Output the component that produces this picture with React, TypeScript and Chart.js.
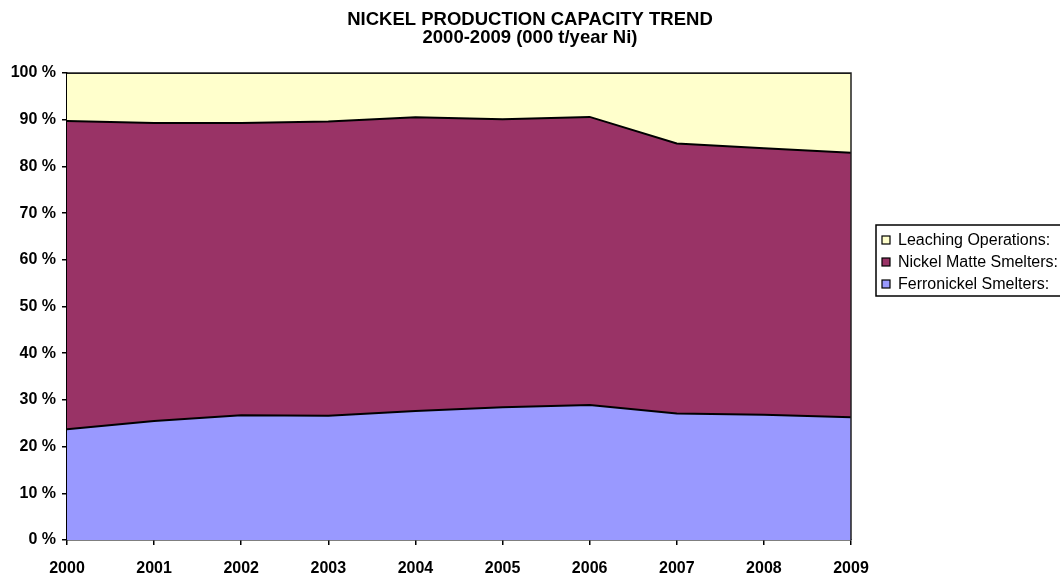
import React, { useEffect, useRef } from "react";
import { Chart, registerables } from "chart.js";

Chart.register(...registerables);

// Share of nickel production capacity by process route, in percent of total
const years = ["2000", "2001", "2002", "2003", "2004", "2005", "2006", "2007", "2008", "2009"];
const ferronickelShare = [23.7, 25.5, 26.7, 26.6, 27.6, 28.4, 28.9, 27.1, 26.8, 26.3];
const matteSmelterShare = [66.0, 63.8, 62.6, 63.0, 62.9, 61.7, 61.7, 57.8, 57.1, 56.6];
const leachingShare = [10.3, 10.7, 10.7, 10.4, 9.5, 9.9, 9.4, 15.1, 16.1, 17.1];

const titleLines = ["NICKEL PRODUCTION CAPACITY TREND", "2000-2009 (000 t/year Ni)"];

const seriesNames = ["Ferronickel Smelters:", "Nickel Matte Smelters:", "Leaching Operations:"];
const seriesColors = ["#9999FF", "#993366", "#FFFFCC"];

const FONT = "'Liberation Sans', Arial, sans-serif";

const titlePlugin = {
  id: "twoLineTitle",
  afterDraw(chart: any) {
    const ctx = chart.ctx;
    ctx.save();
    ctx.fillStyle = "#000";
    ctx.font = `bold 18.5px ${FONT}`;
    ctx.textAlign = "center";
    ctx.textBaseline = "middle";
    const cx = chart.width / 2;
    ctx.fillText(titleLines[0], cx, 19.5);
    ctx.fillText(titleLines[1], cx, 37.5);
    ctx.restore();
  },
};

const framePlugin = {
  id: "plotFrame",
  afterDatasetsDraw(chart: any) {
    const { ctx, chartArea } = chart;
    ctx.save();
    ctx.strokeStyle = "#222";
    ctx.lineWidth = 1.5;
    ctx.beginPath();
    ctx.moveTo(chartArea.left, chartArea.top);
    ctx.lineTo(chartArea.right, chartArea.top);
    ctx.lineTo(chartArea.right, chartArea.bottom);
    ctx.stroke();
    ctx.restore();
  },
};

// Boxed legend listing the series top-down (reverse of stacking order)
const boxLegendPlugin = {
  id: "boxLegend",
  afterDraw(chart: any) {
    const ctx = chart.ctx;
    const left = 876;
    const top = 225;
    const bottom = 296;
    ctx.save();
    ctx.strokeStyle = "#000";
    ctx.lineWidth = 1.5;
    ctx.fillStyle = "#fff";
    ctx.fillRect(left, top, chart.width - left + 10, bottom - top);
    ctx.strokeRect(left, top, chart.width - left + 10, bottom - top);
    ctx.font = `16px ${FONT}`;
    ctx.textBaseline = "middle";
    ctx.textAlign = "left";
    const order = [2, 1, 0];
    order.forEach((idx, row) => {
      const y = 240 + row * 22;
      ctx.fillStyle = seriesColors[idx];
      ctx.fillRect(882, y - 4, 8, 8);
      ctx.strokeStyle = "#000";
      ctx.lineWidth = 1.2;
      ctx.strokeRect(882, y - 4, 8, 8);
      ctx.fillStyle = "#000";
      ctx.fillText(seriesNames[idx], 898, y + 1);
    });
    ctx.restore();
  },
};

export default function App() {
  const canvasRef = useRef<HTMLCanvasElement | null>(null);

  useEffect(() => {
    if (!canvasRef.current) return;
    const values = [ferronickelShare, matteSmelterShare, leachingShare];
    const chart = new Chart(canvasRef.current, {
      type: "line",
      data: {
        labels: years,
        datasets: values.map((v, i) => ({
          label: seriesNames[i],
          data: v,
          backgroundColor: seriesColors[i],
          borderColor: "#000",
          borderWidth: 2,
          pointRadius: 0,
          tension: 0,
          fill: i === 0 ? "origin" : "-1",
        })),
      },
      options: {
        responsive: false,
        animation: false,
        layout: { padding: { left: 0, right: 209, top: 73, bottom: 0 } },
        plugins: {
          legend: { display: false },
          title: { display: false },
          tooltip: { enabled: false },
        },
        scales: {
          x: {
            offset: false,
            grid: {
              display: true,
              drawOnChartArea: false,
              drawTicks: true,
              tickLength: 5,
              color: "#000",
              lineWidth: 1.5,
            },
            border: { display: true, color: "#000", width: 1.5 },
            ticks: {
              color: "#000",
              font: { family: FONT, size: 16, weight: "bold" },
              padding: 14,
              maxRotation: 0,
              autoSkip: false,
            },
            afterFit(scale: any) {
              scale.height = 37;
            },
          },
          y: {
            stacked: true,
            min: 0,
            max: 100,
            grid: {
              display: true,
              drawOnChartArea: false,
              drawTicks: true,
              tickLength: 5,
              color: "#000",
              lineWidth: 1.5,
            },
            border: { display: true, color: "#000", width: 1.5 },
            ticks: {
              stepSize: 10,
              color: "#000",
              font: { family: FONT, size: 16, weight: "bold" },
              padding: 6,
              callback: (v: any) => `${v} %`,
            },
            afterFit(scale: any) {
              scale.width = 67;
            },
          },
        },
      },
      plugins: [framePlugin, titlePlugin, boxLegendPlugin],
    });
    return () => chart.destroy();
  }, []);

  return (
    <div style={{ position: "fixed", left: 0, top: 0, width: 1060, height: 577, background: "#fff" }}>
      <canvas ref={canvasRef} width={1060} height={577} />
    </div>
  );
}
